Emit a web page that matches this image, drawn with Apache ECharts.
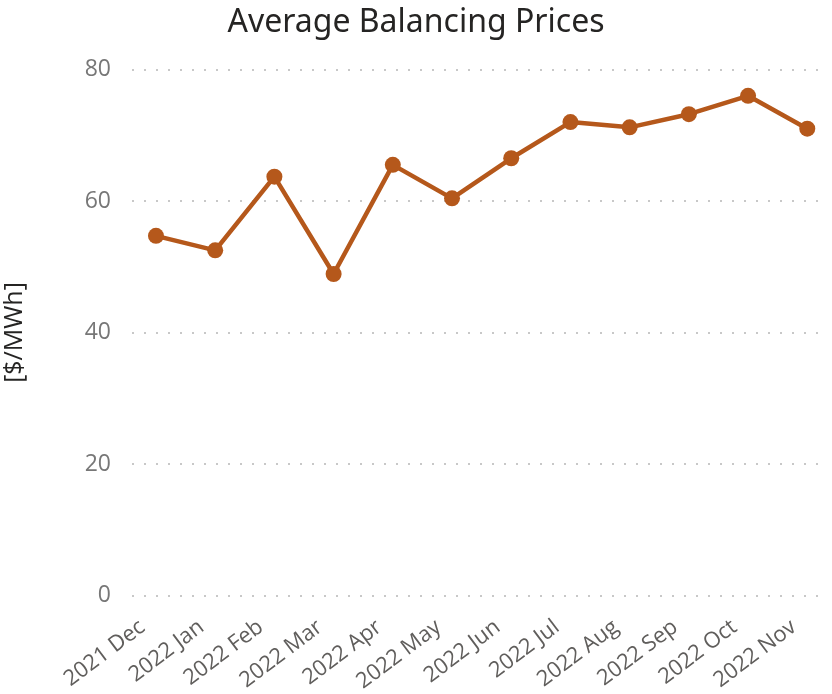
<!DOCTYPE html>
<html>
<head>
<meta charset="utf-8">
<script src="https://cdn.jsdelivr.net/npm/echarts@6/dist/echarts.min.js"></script>
<style>
  html, body { margin: 0; padding: 0; background: #fff; }
  #chart { width: 832px; height: 694px; }
</style>
</head>
<body>
<div id="chart"></div>
<script>
const months = ["2021 Dec", "2022 Jan", "2022 Feb", "2022 Mar", "2022 Apr", "2022 May",
  "2022 Jun", "2022 Jul", "2022 Aug", "2022 Sep", "2022 Oct", "2022 Nov"];
const prices = [54.7, 52.5, 63.7, 48.9, 65.5, 60.4, 66.5, 72.0, 71.2, 73.2, 76.0, 71.0];
const yTicks = [0, 20, 40, 60, 80];

const chart = echarts.init(document.getElementById("chart"));

const option = {
  animation: false,
  title: {
    text: "Average Balancing Prices",
    left: "center",
    top: 2,
    textStyle: { fontFamily: "Noto Sans", fontSize: 32, fontWeight: "normal", color: "#252423" },
  },
  grid: { left: 132, right: 4, top: 69.5, bottom: 98.5, containLabel: false, outerBoundsMode: "none" },
  xAxis: {
    type: "value",
    min: -0.405,
    max: 11.35,
    axisLine: { show: false },
    axisTick: { show: false },
    splitLine: { show: false },
    axisLabel: {
      customValues: months.map((m, i) => i),
      formatter: (v) => months[Math.round(v)] || "",
      rotate: 37,
      margin: 19,
      padding: [0, 17, 0, 0],
      fontFamily: "Open Sans",
      fontSize: 22,
      color: "#605E5C",
    },
  },
  yAxis: {
    type: "value",
    min: 0,
    max: 80,
    interval: 20,
    name: "[$/MWh]",
    nameLocation: "middle",
    nameGap: 105,
    nameTextStyle: { fontFamily: "Open Sans", fontSize: 25, color: "#252423" },
    axisLine: { show: false },
    axisTick: { show: false },
    axisLabel: {
      formatter: (v) => (yTicks.includes(v) ? String(v) : ""),
      margin: 21,
      fontFamily: "Open Sans",
      fontSize: 23,
      color: "#777777",
    },
    splitLine: { lineStyle: { color: "#c8c8c8", width: 2, type: [2, 10] } },
  },
  series: [
    {
      type: "line",
      data: prices.map((p, i) => [i, p]),
      symbol: "circle",
      symbolSize: 16,
      lineStyle: { color: "#B5581B", width: 4.5 },
      itemStyle: { color: "#B5581B" },
    },
  ],
};

chart.setOption(option);
</script>
</body>
</html>
